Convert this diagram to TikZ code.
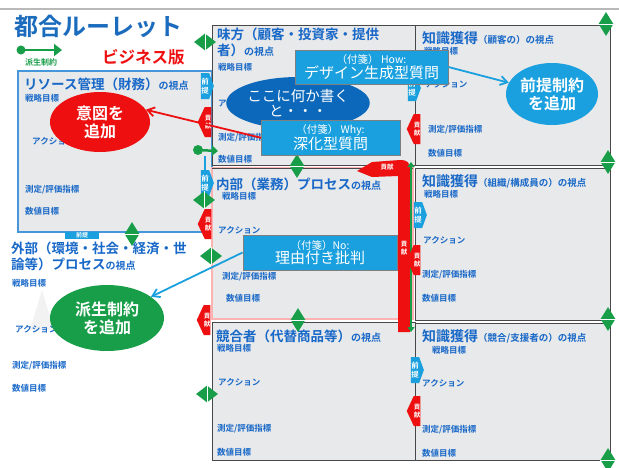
\documentclass[tikz,border=0pt]{standalone}
\usepackage{fontspec}
\setmainfont{Noto Sans CJK JP}[BoldFont={Noto Sans CJK JP Bold}]
\usetikzlibrary{positioning}
\usetikzlibrary{shapes.geometric, shapes.symbols}
\usetikzlibrary{arrows.meta}

\definecolor{titleblue}{RGB}{28,108,190}
\definecolor{labelblue}{RGB}{24,104,200}
\definecolor{boxgray}{RGB}{232,233,234}
\definecolor{edgegray}{RGB}{72,72,72}
\definecolor{resedge}{RGB}{70,150,220}
\definecolor{fusen}{RGB}{26,160,222}
\definecolor{kokoblue}{RGB}{12,104,186}
\definecolor{kokenred}{RGB}{238,16,16}
\definecolor{haseigreen}{RGB}{24,158,72}

\newcommand{\shiten}{{\fontsize{10}{12}\selectfont の視点}}

\tikzset{
  viewbox/.style={draw=edgegray, fill=boxgray, line width=1pt},
  vtitle/.style={anchor=west, inner sep=0pt, text=labelblue, font=\fontsize{13.5}{16}\selectfont\bfseries},
  item/.style={anchor=west, inner sep=0pt, text=labelblue, font=\fontsize{8.5}{9}\selectfont\bfseries},
  fusenbox/.style={draw=edgegray!70, fill=fusen, text=white, align=center, inner sep=0pt, line width=0.8pt},
  bubble/.style={ellipse, text=white, align=center, inner sep=0pt, font=\fontsize{16}{18}\selectfont\bfseries},
  maetab/.style={signal, signal to=east, signal pointer angle=140, fill=fusen, text=white, align=center,
    inner sep=0pt, minimum width=13pt, minimum height=26pt, font=\fontsize{7.5}{9}\selectfont\bfseries},
  kokentab/.style={signal, signal to=west, signal pointer angle=130, fill=kokenred, text=white, align=center,
    inner sep=0pt, minimum width=13pt, minimum height=30pt, font=\fontsize{6.5}{8}\selectfont\bfseries},
  vdia/.style={diamond, fill=haseigreen, inner sep=0pt, minimum width=15pt, minimum height=24pt},
  hdia/.style={diamond, fill=haseigreen, inner sep=0pt, minimum width=22pt, minimum height=17pt},
  barb/.style={-{Straight Barb[length=7pt,width=9pt]}, line width=1.8pt}
}

\begin{document}
\begin{tikzpicture}[x=1pt,y=-1pt]
\useasboundingbox (0,0) rectangle (619,467);
\draw[gray!55, line width=1.2pt] (0,9) -- (619,9);

% faint trees behind the outer view
\fill[black!5] (42,290) -- (30,330) -- (54,330) -- cycle;
\fill[black!5] (118,292) -- (104,336) -- (132,336) -- cycle;

% heading and legend
\node[anchor=west, text=titleblue, font=\fontsize{24}{26}\selectfont\bfseries, inner sep=0pt] (title) at (14,26) {都合ルーレット};
\node[anchor=west, text=kokenred, font=\fontsize{16.5}{18}\selectfont\bfseries, inner sep=0pt] (bizver) at (102,57) {ビジネス版};
\coordinate (legtail) at (21,50);
\coordinate (leghead) at (62,50);
\fill[haseigreen] (legtail) circle[radius=4.5];
\draw[haseigreen, line width=2.5pt, -{Triangle[length=8pt,width=12pt]}] (legtail) -- (leghead);
\node[text=haseigreen, font=\fontsize{8}{9}\selectfont\bfseries, inner sep=0pt] (legtext) at (41,62) {派生制約};

% resource view
\draw[fill=boxgray, draw=resedge, line width=1.5pt] (18,71) rectangle (212,232);
\node[vtitle] (rest) at (24,84) {リソース管理（財務）\shiten};
\node[item] (ress) at (25,98) {戦略目標};
\node[item] (resa) at (32,141) {アクション};
\node[item] (resm) at (25,190) {測定/評価指標};
\node[item] (resn) at (25,211) {数値目標};
\node[fill=fusen, text=white, inner sep=0pt, minimum width=34pt, minimum height=7pt,
  font=\fontsize{6}{6}\selectfont\bfseries] (resmae) at (82,235) {前提};

% outer view (no frame)
\node[vtitle, anchor=north west, align=left] (gait) at (11,242) {外部（環境・社会・経済・世\\論等）プロセス\shiten};
\node[item] (gais) at (12,283) {戦略目標};
\node[item] (gaia) at (15,329) {アクション};
\node[item] (gaim) at (12,366) {測定/評価指標};
\node[item] (gain) at (12,388) {数値目標};

% middle column
\draw[viewbox] (212,25) rectangle (415,165);
\draw[fill=boxgray, draw=red!30, line width=1.5pt] (212,168) rectangle (413,319);
\draw[edgegray, line width=1pt] (212,168) -- (413,168);
\draw[viewbox] (212,322) rectangle (415,460);

\node[vtitle, anchor=north west, align=left] (mikt) at (217,28) {味方（顧客・投資家・提供\\者）\shiten};
\node[item] (miks) at (218,67) {戦略目標};
\node[item] (mika) at (218,103) {アクション};
\node[item] (mikm) at (218,138) {測定/評価指標};
\node[item] (mikn) at (218,159) {数値目標};

\node[vtitle] (naibt) at (216,184) {内部（業務）プロセス\shiten};
\node[item] (naibs) at (222,196) {戦略目標};
\node[item] (naiba) at (218,230) {アクション};
\node[item] (naibm) at (222,277) {測定/評価指標};
\node[item] (naibn) at (226,298) {数値目標};

\node[vtitle] (kyot) at (216,336) {競合者（代替商品等）\shiten};
\node[item] (kyos) at (217,348) {戦略目標};
\node[item] (kyoa) at (218,382) {アクション};
\node[item] (kyom) at (217,429) {測定/評価指標};
\node[item] (kyon) at (217,452) {数値目標};

% right column
\draw[viewbox] (415,25) rectangle (610,165);
\draw[viewbox] (415,168) rectangle (610,320);
\draw[viewbox] (415,323) rectangle (610,460);

\node[vtitle, font=\fontsize{14}{16}\selectfont\bfseries] (chi1t) at (422,38) {知識獲得{\fontsize{9.5}{11}\selectfont （顧客の）の視点}};
\node[item] (chi1s) at (424,51) {戦略目標};
\node[item] (chi1a) at (425,84) {アクション};
\node[item] (chi1m) at (428,130) {測定/評価指標};
\node[item] (chi1n) at (428,153) {数値目標};

\node[vtitle, font=\fontsize{14}{16}\selectfont\bfseries] (chi2t) at (422,181) {知識獲得{\fontsize{9.5}{11}\selectfont （組織/構成員の）の視点}};
\node[item] (chi2s) at (424,194) {戦略目標};
\node[item] (chi2a) at (423,240) {アクション};
\node[item] (chi2m) at (422,275) {測定/評価指標};
\node[item] (chi2n) at (422,298) {数値目標};

\node[vtitle, font=\fontsize{14}{16}\selectfont\bfseries] (chi3t) at (422,336) {知識獲得{\fontsize{9.5}{11}\selectfont （競合/支援者の）の視点}};
\node[item] (chi3s) at (432,350) {戦略目標};
\node[item] (chi3a) at (422,383) {アクション};
\node[item] (chi3m) at (422,430) {測定/評価指標};
\node[item] (chi3n) at (422,453) {数値目標};

% contribution bar
\fill[kokenred] (398,332) -- (398,176) -- (372,177) -- (357,171) -- (372,162) -- (400,160)
  .. controls (408,160) and (410,163) .. (410,170) -- (410,332) -- cycle;
\node[text=white, font=\fontsize{6.5}{8}\selectfont\bfseries, inner sep=0pt] (barlbl) at (387,167) {貢献};
\node[text=white, font=\fontsize{6.5}{8}\selectfont\bfseries, align=center, inner sep=0pt] (barlbl2) at (404,248) {貢\\献};
\coordinate (gtop) at (411,162);
\coordinate (gbot) at (411,332);
\draw[haseigreen, line width=1.8pt, {Triangle[length=5pt,width=7pt]}-{Triangle[length=5pt,width=7pt]}] (gtop) -- (gbot);

% tabs on the frames
\node[maetab] (mae1) at (205,86) {前\\提};
\node[maetab] (mae2) at (205,183) {前\\提};
\node[maetab] (mae3) at (412,88) {前\\提};
\node[maetab] (mae4) at (418,215) {前\\提};
\node[maetab] (mae5) at (415,370) {前\\提};
\draw[fusen, line width=1.5pt] (205,156) -- (mae2);

\node[kokentab] (koken1) at (208,122) {貢\\献};
\node[kokentab] (koken2) at (208,224) {貢\\献};
\node[kokentab] (koken3) at (207,320) {貢\\献};
\node[kokentab] (koken4) at (417,129) {貢\\献};
\node[kokentab] (koken5) at (417,260) {貢\\献};
\node[kokentab] (koken6) at (417,411) {貢\\献};

% link markers
\node[vdia] (d1) at (606,24) {};
\node[vdia] (d2) at (608,162) {};
\node[vdia] (d3) at (608,319) {};
\node[vdia] (d4) at (608,460) {};
\node[vdia] (d5) at (297,166) {};
\node[vdia] (d6) at (298,320) {};
\node[vdia] (d7) at (132,234) {};
\node[hdia] (d8) at (205,42) {};
\node[hdia] (d9) at (211,256) {};
\node[hdia] (d10) at (207,394) {};
\node[hdia] (d11) at (204,200) {};
\foreach \d in {d1,d2,d3,d4,d5,d6,d7} \draw[white, line width=0.6pt] (\d.west) -- (\d.east);
\foreach \d in {d8,d9,d10,d11} \draw[white, line width=0.6pt] (\d.north) -- (\d.south);
\coordinate (gdot) at (198,150);
\coordinate (gdothead) at (218,151);
\fill[haseigreen] (gdot) circle[radius=5];
\draw[haseigreen, line width=2.5pt, -{Triangle[length=6pt,width=10pt]}] (gdot) -- (gdothead);

% bubbles
\node[bubble, fill=kokoblue, minimum width=130pt, minimum height=52pt, font=\fontsize{14.5}{15}\selectfont] (koko) at (298,103) {ここに何か書く\\と・・・};
\node[bubble, fill=kokenred, minimum width=100pt, minimum height=60pt] (ito) at (100,122) {意図を\\追加};
\node[bubble, fill=fusen, minimum width=92pt, minimum height=62pt] (zentei) at (552,94) {前提制約\\を追加};
\node[bubble, fill=haseigreen, minimum width=114pt, minimum height=66pt] (hasei) at (107,318) {派生制約\\を追加};

\coordinate (itostart) at (262,138);
\draw[barb, kokenred] (itostart) -- (ito.15);

% sticky notes
\node[fusenbox, minimum width=153pt, minimum height=34pt] (how) at (371.5,67)
  {{\fontsize{10.5}{12}\selectfont （付箋） How:}\\{\fontsize{15}{17}\selectfont デザイン生成型質問}};
\node[fusenbox, minimum width=139pt, minimum height=35pt] (why) at (330.5,137.5)
  {{\fontsize{10.5}{12}\selectfont （付箋） Why:}\\{\fontsize{15}{17}\selectfont 深化型質問}};
\node[fusenbox, minimum width=154pt, minimum height=35pt] (no) at (320,252.5)
  {{\fontsize{10.5}{12}\selectfont （付箋）No:}\\{\fontsize{15}{17}\selectfont 理由付き批判}};

\draw[barb, fusen] (how.east) -- (zentei);
\draw[barb, fusen] (no.west) -- (hasei);
\end{tikzpicture}
\end{document}
